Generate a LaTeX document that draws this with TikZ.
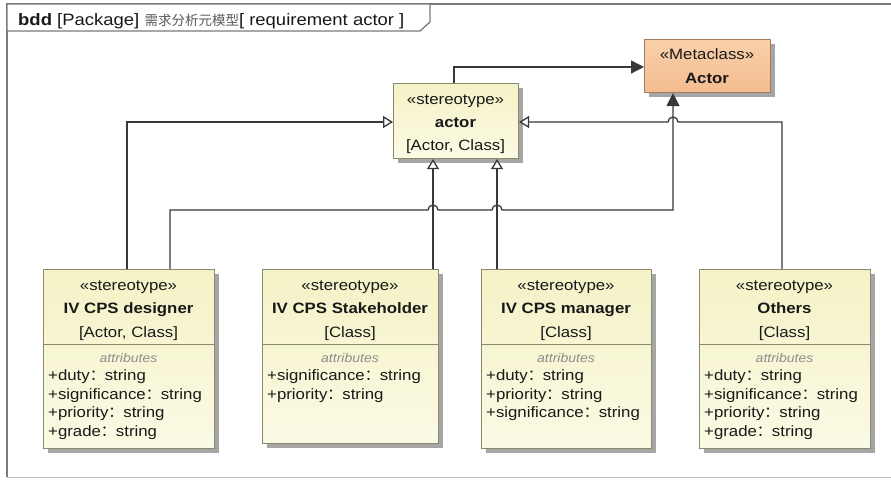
\documentclass[tikz,border=0pt]{standalone}
\usepackage{fontspec}
\setmainfont{Liberation Sans}[FakeStretch=1.12]
\newfontfamily\cjk{Noto Sans CJK SC}
\usetikzlibrary{arrows.meta,shadows}
\definecolor{boxtop}{HTML}{F4F2C6}
\definecolor{boxbot}{HTML}{FBFAE4}
\definecolor{boxline}{HTML}{8A8A6A}
\definecolor{metatop}{HTML}{F9D0AA}
\definecolor{metabot}{HTML}{F4BC90}
\definecolor{metaline}{HTML}{A47C5C}
\definecolor{connc}{HTML}{383838}
\definecolor{framec}{HTML}{7A7A7A}
\newcommand\fcolon{{\cjk ：}}
\begin{document}
\begin{tikzpicture}[x=1pt,y=-1pt,
  stbox/.style={draw=boxline, line width=1.1pt, top color=boxtop, bottom color=boxbot,
    drop shadow={shadow xshift=4pt, shadow yshift=-4pt, fill=black!35, opacity=1},
    inner sep=0pt, anchor=north west},
  metabox/.style={stbox, draw=metaline, top color=metatop, bottom color=metabot},
  divider/.style={draw=boxline, line width=0.9pt},
  txt/.style={anchor=base, inner sep=0pt, text=black!90, font=\fontsize{15pt}{18pt}\selectfont},
  bold/.style={txt, font=\fontsize{15pt}{18pt}\selectfont\bfseries},
  attrhead/.style={anchor=base, inner sep=0pt, text=black!45, font=\fontsize{12.5pt}{14pt}\selectfont\itshape},
  attr/.style={anchor=base west, inner sep=0pt, text=black!90, font=\fontsize{15pt}{18pt}\selectfont},
  conn/.style={draw=connc, line width=1.3pt},
  gen/.style={conn, -{Triangle[open, length=10pt, width=12pt, fill=white]}},
  dep/.style={conn, -{Triangle[length=13pt, width=13pt, fill=connc]}}
]
\useasboundingbox (0,0) rectangle (891,479);
\fill[white] (0,0) rectangle (891,479);

% frame
\draw[framec, line width=1.6pt] (891,4) -- (7,4) -- (7,477);
\draw[black!25, line width=1pt] (7,477) -- (891,477);
\draw[framec, line width=1.3pt, fill=white] (7,4) -- (430,4) -- (430,22) -- (420,31) -- (7,31) -- cycle;
\node[anchor=base west, inner sep=0pt, text=black!90, font=\fontsize{16.5pt}{19pt}\selectfont] (title) at (18,25)
  {\textbf{bdd} [Package] {\color{black!65}\fontsize{13.5pt}{16pt}\selectfont\cjk 需求分析元模型}[ requirement actor ]};

% boxes
\node[metabox, minimum width=126pt, minimum height=53pt] (meta) at (644,39) {};
\node[stbox, minimum width=125pt, minimum height=75pt] (actor) at (393,83) {};
\node[stbox, minimum width=171pt, minimum height=179pt] (designer) at (43,269) {};
\node[stbox, minimum width=176pt, minimum height=174pt] (stake) at (262,269) {};
\node[stbox, minimum width=170pt, minimum height=179pt] (manager) at (481,269) {};
\node[stbox, minimum width=171pt, minimum height=179pt] (others) at (699,269) {};

% metaclass text
\node[txt] (metaS) at (707,59) {«Metaclass»};
\node[bold] (metaN) at (707,83) {Actor};

% actor text
\node[txt] (actS) at (455.5,104) {«stereotype»};
\node[bold] (actN) at (455.5,127) {actor};
\node[txt] (actM) at (455.5,150) {[Actor, Class]};

% designer
\node[txt] (desS) at (128.5,290) {«stereotype»};
\node[bold] (desN) at (128.5,313) {IV CPS designer};
\node[txt] (desM) at (128.5,337) {[Actor, Class]};
\draw[divider] (designer.west |- 0,344) -- (designer.east |- 0,344);
\node[attrhead] (desH) at (128.5,362) {attributes};
\node[attr] (desA1) at (48,380) {+duty\fcolon string};
\node[attr] (desA2) at (48,399) {+significance\fcolon string};
\node[attr] (desA3) at (48,417) {+priority\fcolon string};
\node[attr] (desA4) at (48,436) {+grade\fcolon string};

% stakeholder
\node[txt] (stkS) at (350,290) {«stereotype»};
\node[bold] (stkN) at (350,313) {IV CPS Stakeholder};
\node[txt] (stkM) at (350,337) {[Class]};
\draw[divider] (stake.west |- 0,344) -- (stake.east |- 0,344);
\node[attrhead] (stkH) at (350,362) {attributes};
\node[attr] (stkA1) at (267,380) {+significance\fcolon string};
\node[attr] (stkA2) at (267,399) {+priority\fcolon string};

% manager
\node[txt] (manS) at (566,290) {«stereotype»};
\node[bold] (manN) at (566,313) {IV CPS manager};
\node[txt] (manM) at (566,337) {[Class]};
\draw[divider] (manager.west |- 0,344) -- (manager.east |- 0,344);
\node[attrhead] (manH) at (566,362) {attributes};
\node[attr] (manA1) at (486,380) {+duty\fcolon string};
\node[attr] (manA2) at (486,399) {+priority\fcolon string};
\node[attr] (manA3) at (486,417) {+significance\fcolon string};

% others
\node[txt] (othS) at (784.5,290) {«stereotype»};
\node[bold] (othN) at (784.5,313) {Others};
\node[txt] (othM) at (784.5,337) {[Class]};
\draw[divider] (others.west |- 0,344) -- (others.east |- 0,344);
\node[attrhead] (othH) at (784.5,362) {attributes};
\node[attr] (othA1) at (704,380) {+duty\fcolon string};
\node[attr] (othA2) at (704,399) {+significance\fcolon string};
\node[attr] (othA3) at (704,417) {+priority\fcolon string};
\node[attr] (othA4) at (704,436) {+grade\fcolon string};

% connectors
\draw[dep] (454,0 |- actor.north) -- (454,67) -- (meta.west |- 0,67);
\draw[gen] (127,0 |- designer.north) -- (127,122) -- (actor.west |- 0,122);
\draw[gen] (433,0 |- stake.north) -- (433,0 |- actor.south);
\draw[gen] (497,0 |- manager.north) -- (497,0 |- actor.south);
\draw[dep] (170,0 |- designer.north) -- (170,210) -- (428,210)
  arc[start angle=180, end angle=360, radius=5] -- (492,210)
  arc[start angle=180, end angle=360, radius=5] -- (673,210) -- (673,0 |- meta.south);
\draw[gen] (782,0 |- others.north) -- (782,122) -- (678,122)
  arc[start angle=0, end angle=-180, radius=5] -- (actor.east |- 0,122);
\end{tikzpicture}
\end{document}
